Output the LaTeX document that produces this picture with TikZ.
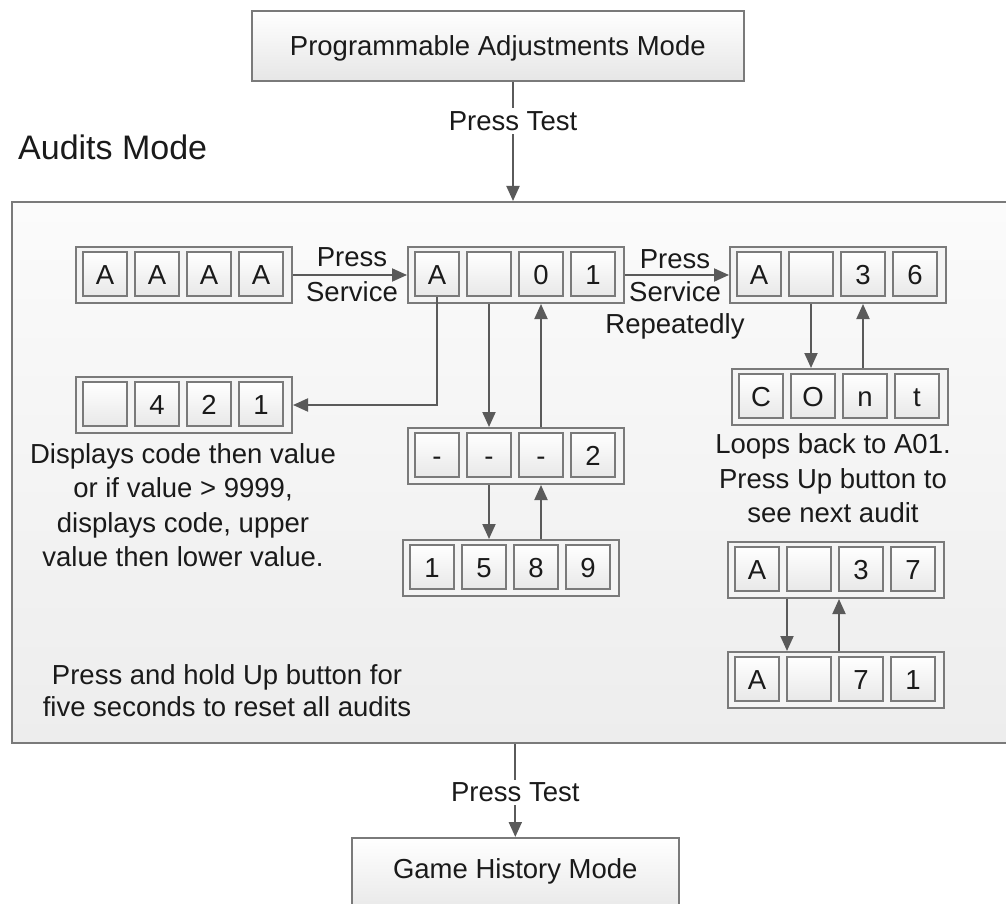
\documentclass[tikz,border=0pt]{standalone}
\usepackage{fontspec}
\setmainfont{Liberation Sans}
\usetikzlibrary{arrows.meta,calc}
\definecolor{bordc}{HTML}{7A7A7A}
\definecolor{arrc}{HTML}{5A5A5A}
\definecolor{txtc}{HTML}{1A1A1A}
\definecolor{grpfill}{HTML}{F4F4F4}
\definecolor{cellbot}{HTML}{E8E8E8}
\definecolor{modebot}{HTML}{E6E6E6}
\definecolor{bigtop}{HTML}{FBFBFB}
\definecolor{bigbot}{HTML}{EDEDED}
\tikzset{
  txt/.style={font=\fontsize{27.5}{34.5}\selectfont, text=txtc, inner sep=0pt},
  grp/.style={draw=bordc, line width=2pt, fill=grpfill, minimum width=216pt, minimum height=56pt, inner sep=0pt, anchor=north west},
  cell/.style={txt, draw=bordc, line width=2pt, top color=white, bottom color=cellbot, minimum width=44pt, minimum height=44pt, text height=20pt, text depth=0pt},
  modebox/.style={txt, draw=bordc, line width=1.6pt, top color=white, bottom color=modebot, anchor=north west},
  bigbox/.style={draw=bordc, line width=2pt, top color=bigtop, bottom color=bigbot, anchor=north west, inner sep=0pt},
  arr/.style={draw=arrc, line width=2pt, -{Triangle[length=15pt,width=13pt]}},
  lbl/.style={txt, fill=white, inner sep=3pt},
}
\newcommand\dispgroup[7]{%
  \node[grp] (#1) at (#2,#3) {};
  \node[cell] (#1-1) at (#2+30,#3+28) {#4};
  \node[cell] (#1-2) at (#2+82,#3+28) {#5};
  \node[cell] (#1-3) at (#2+134,#3+28) {#6};
  \node[cell] (#1-4) at (#2+186,#3+28) {#7};
}
\begin{document}
\begin{tikzpicture}[x=1pt,y=-1pt]
\useasboundingbox (0,0) rectangle (1006,904);
\clip (0,0) rectangle (1006,904);

% mode boxes
\node[modebox, minimum width=492pt, minimum height=70pt, text height=20pt, text depth=0pt] (top) at (251,10) {Programmable Adjustments Mode};
\node[bigbox, minimum width=1010pt, minimum height=541pt] (big) at (11,201) {};
\node[modebox, minimum width=327pt, minimum height=80pt, text height=20pt, text depth=18pt] (game) at (351,837) {Game History Mode};

\node[font=\fontsize{34}{40}\selectfont, text=txtc, inner sep=0pt, anchor=base west] (title) at (18,160) {Audits Mode};

% displays
\dispgroup{aaaa}{75}{246}{A}{A}{A}{A}
\dispgroup{a01}{407}{246}{A}{}{0}{1}
\dispgroup{a36}{729}{246}{A}{}{3}{6}
\dispgroup{c421}{75}{376}{}{4}{2}{1}
\dispgroup{cont}{731}{368}{C}{O}{n}{t}
\dispgroup{d2}{407}{427}{-}{-}{-}{2}
\dispgroup{n1589}{402}{539}{1}{5}{8}{9}
\dispgroup{a37}{727}{541}{A}{}{3}{7}
\dispgroup{a71}{727}{651}{A}{}{7}{1}

% texts
\node[txt, align=center, anchor=north] (t1) at (183,443) {Displays code then value\\or if value > 9999,\\displays code, upper\\value then lower value.};
\node[txt, align=center, anchor=north] (t2) at (833,433.5) {Loops back to A01.\\Press Up button to\\see next audit};
\node[txt, font=\fontsize{27.5}{32}\selectfont, align=center, anchor=north] (t3) at (227,664) {Press and hold Up button for\\five seconds to reset all audits};

% mode connectors
\coordinate (tx) at (513,0);
\draw[arr] (tx |- top.south) -- node[lbl, pos=0.33] {Press Test} (tx |- big.north);
\draw[arr] (game.north |- big.south) -- node[lbl, pos=0.52] {Press Test} (game.north);

% display connectors
\draw[arr] (aaaa.east) -- (a01.west);
\node[txt, anchor=base] (l1) at (352,266) {Press};
\node[txt, anchor=base] (l2) at (352,301) {Service};
\draw[arr] (a01.east) -- (a36.west);
\node[txt, anchor=base] (l3) at (675,268) {Press};
\node[txt, anchor=base] (l4) at (675,301) {Service};
\node[txt, anchor=base] (l5) at (675,333) {Repeatedly};

\draw[arr] (a01-1.south) |- (c421.east);
\draw[arr] (a01-2 |- a01.south) -- (a01-2 |- d2.north);
\draw[arr] (a01-3 |- d2.north) -- (a01-3 |- a01.south);
\draw[arr] (d2-2 |- d2.south) -- (d2-2 |- n1589.north);
\draw[arr] (d2-3 |- n1589.north) -- (d2-3 |- d2.south);
\draw[arr] (a36-2 |- a36.south) -- (a36-2 |- cont.north);
\draw[arr] (a36-3 |- cont.north) -- (a36-3 |- a36.south);
\coordinate (p1) at ($(a37-1.east)+(7,0)$);
\coordinate (p2) at ($(a37-2.east)+(7,0)$);
\draw[arr] (p1 |- a37.south) -- (p1 |- a71.north);
\draw[arr] (p2 |- a71.north) -- (p2 |- a37.south);
\end{tikzpicture}
\end{document}
